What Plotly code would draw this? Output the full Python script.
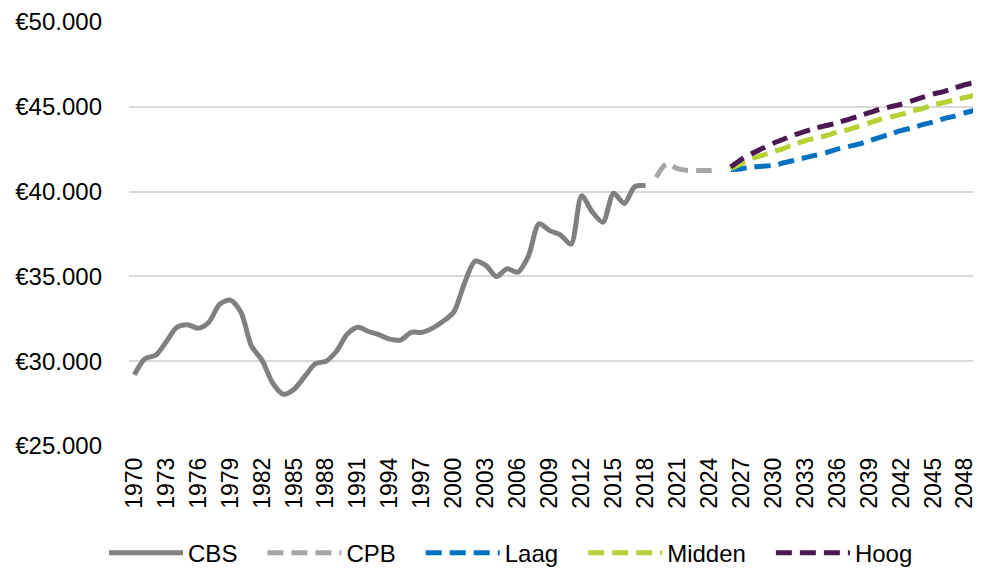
import plotly.graph_objects as go

cbs_years = list(range(1970, 2019))
cbs_values = [29200, 30150, 30350, 31150, 32000, 32150, 31950, 32300, 33350, 33600,
              32900, 30900, 30050, 28700, 28050, 28350, 29100, 29850, 30000, 30600,
              31600, 32000, 31750, 31550, 31300, 31250, 31700, 31700, 31950, 32350,
              32900, 34600, 35900, 35650, 35000, 35450, 35250, 36200, 38100, 37700,
              37450, 36900, 39750, 38800, 38200, 39900, 39300, 40300, 40350]

cpb_years = list(range(2019, 2026))
cpb_values = [40850, 41650, 41350, 41250, 41250, 41250, 41250]

scen_years = list(range(2026, 2051))
laag_values = [41300, 41350, 41450, 41500, 41550, 41700, 41850, 42000, 42150, 42300,
               42500, 42650, 42800, 43000, 43200, 43400, 43600, 43750, 43950, 44100,
               44300, 44450, 44650, 44800, 45000]
midden_values = [41350, 41650, 41950, 42150, 42350, 42550, 42800, 43000, 43150, 43300,
                 43500, 43650, 43850, 44050, 44250, 44400, 44550, 44750, 44900, 45100,
                 45250, 45400, 45550, 45700, 45850]
hoog_values = [41450, 41900, 42250, 42550, 42850, 43100, 43350, 43550, 43750, 43900,
               44050, 44250, 44450, 44650, 44850, 45000, 45150, 45350, 45550, 45750,
               45900, 46100, 46300, 46450, 46650]

series_names = ["CBS", "CPB", "Laag", "Midden", "Hoog"]

x_tick_years = list(range(1970, 2049, 3))
y_tick_values = [25000, 30000, 35000, 40000, 45000, 50000]
y_tick_labels = ["€25.000", "€30.000", "€35.000", "€40.000", "€45.000", "€50.000"]

FONT = "Liberation Sans, Arial, sans-serif"
DASH = "16px,8px"
W = 5
PAD = "\u00a0" * 3  # spacing after legend labels


def legend_name(i):
    return series_names[i] + (PAD if i < len(series_names) - 1 else "")


fig = go.Figure()
fig.add_trace(go.Scatter(x=cbs_years, y=cbs_values, name=legend_name(0), mode="lines",
                         line=dict(color="#808080", width=W, shape="spline", smoothing=0.8)))
fig.add_trace(go.Scatter(x=cpb_years, y=cpb_values, name=legend_name(1), mode="lines",
                         line=dict(color="#A6A6A6", width=W, dash=DASH, shape="spline", smoothing=0.8)))
fig.add_trace(go.Scatter(x=scen_years, y=laag_values, name=legend_name(2), mode="lines",
                         line=dict(color="#0070C0", width=W, dash=DASH, shape="spline", smoothing=0.8)))
fig.add_trace(go.Scatter(x=scen_years, y=midden_values, name=legend_name(3), mode="lines",
                         line=dict(color="#B4D236", width=W, dash=DASH, shape="spline", smoothing=0.8)))
fig.add_trace(go.Scatter(x=scen_years, y=hoog_values, name=legend_name(4), mode="lines",
                         line=dict(color="#4B1A50", width=W, dash=DASH, shape="spline", smoothing=0.8)))

# the page body has an 8px margin, so the figure is 8px smaller than the window
fig.update_layout(
    width=973, height=562,
    margin=dict(l=121, r=0, t=14, b=124, autoexpand=False),
    paper_bgcolor="white", plot_bgcolor="white",
    font=dict(family=FONT, size=24, color="#000000"),
    showlegend=True,
    legend=dict(orientation="h", x=0.517, xanchor="center", xref="container",
                y=0.0302, yanchor="middle", yref="container",
                font=dict(size=24), itemwidth=74,
                bgcolor="rgba(0,0,0,0)"),
    xaxis=dict(range=[1969.5, 2049.5], tickmode="array", tickvals=x_tick_years,
               ticktext=[str(v) for v in x_tick_years], tickangle=-90,
               tickfont=dict(size=23), showgrid=False, zeroline=False, showline=False,
               ticks="", ticklabelstandoff=6, automargin=False),
    yaxis=dict(range=[25000, 50000], tickmode="array", tickvals=y_tick_values,
               ticktext=y_tick_labels, tickfont=dict(size=24),
               showgrid=True, gridcolor="#D9D9D9", gridwidth=1.5,
               zeroline=False, showline=False, ticks="", ticklabelstandoff=26,
               automargin=False),
)

fig.write_html("out.html")
